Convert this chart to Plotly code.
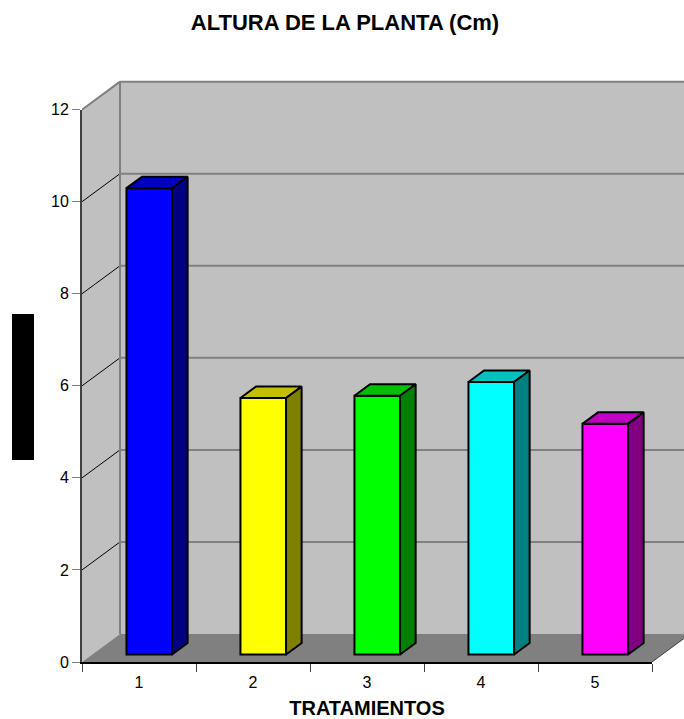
import plotly.graph_objects as go

# ---------------- data ----------------
categories = ["1", "2", "3", "4", "5"]
values = [10.13, 5.57, 5.62, 5.92, 5.01]
front_colors = ["#0000FF", "#FFFF00", "#00FF00", "#00FFFF", "#FF00FF"]
top_colors = ["#0000C0", "#C0C000", "#00C000", "#00C0C0", "#C000C0"]
side_colors = ["#000080", "#808000", "#008000", "#008080", "#800080"]
y_ticks = [0, 2, 4, 6, 8, 10, 12]

title_text = "ALTURA DE LA PLANTA (Cm)"
x_title = "TRATAMIENTOS"

# ---------------- geometry ----------------
W, H = 684, 719
ML, MR, MT, MB = 82, 0, 78, 57
PW = W - ML - MR
PH = H - MT - MB
CAT_PX = 114.0          # pixels per category (front plane)
UNIT_PX = 46.03         # pixels per value unit
DX = 38 / CAT_PX        # depth offset in x (category units)
DY = 28 / UNIT_PX       # depth offset in y (value units)
FRONT = 0.27            # bar front plane depth fraction
BAR_DEPTH = 0.41        # bar depth fraction
BAR_W = 0.40            # bar width (category units)
YMAX = 12
FONT = "Liberation Sans, Arial, sans-serif"

n = len(categories)
xpos = list(range(1, n + 1))
x_full = [0.5, 0.5 + PW / CAT_PX]
y_full = [0, PH / UNIT_PX]

WALL = "#C0C0C0"
FLOOR = "#808080"
GRID = "#808080"

shapes = []
# side wall
shapes.append(dict(type="path", xref="x", yref="y", layer="below",
                   path=f"M 0.5,0 L 0.5,{YMAX} L {0.5+DX},{YMAX+DY} L {0.5+DX},{DY} Z",
                   fillcolor=WALL, line=dict(width=0)))
# back wall
shapes.append(dict(type="rect", xref="x", yref="y", layer="below",
                   x0=0.5 + DX, x1=n + 0.5 + DX, y0=DY, y1=YMAX + DY,
                   fillcolor=WALL, line=dict(width=0)))
# floor
shapes.append(dict(type="path", xref="x", yref="y", layer="below",
                   path=f"M 0.5,0 L {n+0.5},0 L {n+0.5+DX},{DY} L {0.5+DX},{DY} Z",
                   fillcolor=FLOOR, line=dict(width=0)))
# gridlines
for v in y_ticks[1:]:
    shapes.append(dict(type="line", xref="x", yref="y", layer="below",
                       x0=0.5 + DX, x1=n + 0.5 + DX + 1, y0=v + DY, y1=v + DY,
                       line=dict(color=GRID, width=2)))
    edge = v == YMAX
    shapes.append(dict(type="line", xref="x", yref="y", layer="below",
                       x0=0.5, x1=0.5 + DX, y0=v, y1=v + DY,
                       line=dict(color=GRID if edge else "#000000", width=2 if edge else 1)))
# wall left vertical edge
shapes.append(dict(type="line", xref="x", yref="y", layer="below",
                   x0=0.5 + DX, x1=0.5 + DX, y0=DY, y1=YMAX + DY,
                   line=dict(color=GRID, width=2)))
# floor right edge
shapes.append(dict(type="line", xref="x", yref="y", layer="below",
                   x0=n + 0.5, x1=n + 0.5 + DX, y0=0, y1=DY,
                   line=dict(color="#404040", width=1)))
# black block at left (y-axis title area)
def px_to_paper_x(px):
    return (px - ML) / PW
def px_to_paper_y(py):
    return (H - MB - py) / PH
shapes.append(dict(type="rect", xref="paper", yref="paper", layer="above",
                   x0=px_to_paper_x(12), x1=px_to_paper_x(34),
                   y0=px_to_paper_y(460), y1=px_to_paper_y(314),
                   fillcolor="#000000", line=dict(width=0)))

fig = go.Figure()

base = FRONT * DY
xfront = [p + FRONT * DX for p in xpos]
fig.add_trace(go.Bar(x=xfront, y=values, base=base, width=BAR_W,
                     marker=dict(color=front_colors, line=dict(color="#000000", width=2)),
                     xaxis="x", yaxis="y", showlegend=False, hoverinfo="skip"))

bdx = BAR_DEPTH * DX
bdy = BAR_DEPTH * DY
for xc, v, tc, sc in zip(xfront, values, top_colors, side_colors):
    x0 = xc - BAR_W / 2
    x1 = xc + BAR_W / 2
    top = base + v
    fig.add_trace(go.Scatter(
        x=[x0, x1, x1 + bdx, x0 + bdx, x0], y=[top, top, top + bdy, top + bdy, top],
        fill="toself", fillcolor=tc, mode="lines", line=dict(color="#000000", width=2),
        xaxis="x", yaxis="y", showlegend=False, hoverinfo="skip"))
    fig.add_trace(go.Scatter(
        x=[x1, x1 + bdx, x1 + bdx, x1, x1], y=[base, base + bdy, top + bdy, top, base],
        fill="toself", fillcolor=sc, mode="lines", line=dict(color="#000000", width=2),
        xaxis="x", yaxis="y", showlegend=False, hoverinfo="skip"))

# dummy trace for the visible axes subplot
fig.add_trace(go.Scatter(x=[], y=[], xaxis="x2", yaxis="y2", showlegend=False))

fig.update_layout(
    width=W, height=H,
    margin=dict(l=ML, r=MR, t=MT, b=MB),
    paper_bgcolor="#FFFFFF", plot_bgcolor="rgba(0,0,0,0)",
    font=dict(family=FONT, color="#000000", size=16),
    showlegend=False, hovermode=False,
    title=dict(text=title_text, x=345 / W, xref="container", xanchor="center",
               y=1 - 22 / H, yref="container", yanchor="middle",
               font=dict(family=FONT, size=22, color="#000000", weight="bold")),
    shapes=shapes,
    xaxis=dict(domain=[0, 1], range=x_full, visible=False, anchor="y", fixedrange=True),
    yaxis=dict(domain=[0, 1], range=y_full, visible=False, anchor="x", fixedrange=True),
    xaxis2=dict(domain=[0, n * CAT_PX / PW], range=[0.5, n + 0.5], anchor="y2",
                tickmode="array", tickvals=xpos, ticktext=categories, ticks="",
                showline=True, linecolor="#000000", linewidth=2,
                showgrid=False, zeroline=False, tickfont=dict(size=16),
                ticklabelstandoff=5,
                minor=dict(ticks="outside", tickmode="array",
                           tickvals=[0.5 + i for i in range(n + 1)],
                           ticklen=8, tickwidth=1, tickcolor="#404040", showgrid=False),
                title=dict(text=x_title, standoff=14,
                           font=dict(family=FONT, size=20, weight="bold"))),
    yaxis2=dict(domain=[0, YMAX * UNIT_PX / PH], range=[0, YMAX], anchor="x2",
                tickmode="array", tickvals=y_ticks, ticks="outside", ticklen=8,
                tickcolor="#808080", tickwidth=1,
                showline=True, linecolor="#404040", linewidth=2,
                showgrid=False, zeroline=False, tickfont=dict(size=16)),
)

fig.write_html("out.html")
